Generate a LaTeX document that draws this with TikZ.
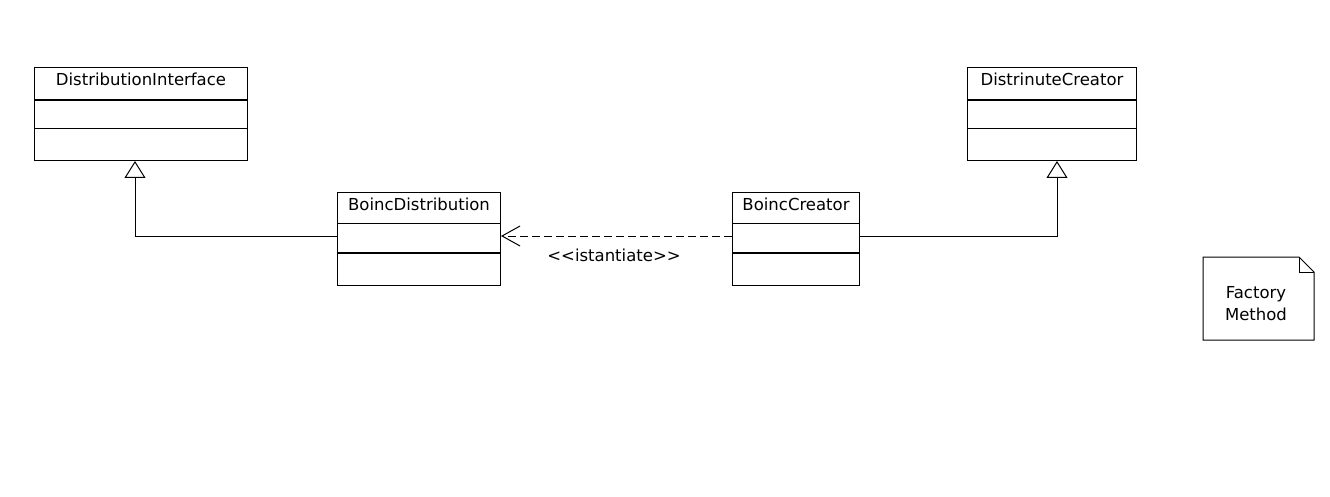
\documentclass[tikz,border=0pt]{standalone}
\usepackage{fontspec}
\setmainfont{DejaVu Sans}
\usetikzlibrary{arrows.meta,calc}
\tikzset{
  classbox/.style={draw, line width=1pt, rectangle, anchor=north west, inner sep=0pt},
  classname/.style={anchor=base, inner sep=0pt, font=\fontsize{16.5}{20}\selectfont},
  thinsep/.style={line width=1pt},
  thicksep/.style={line width=2.2pt},
  inherit/.style={line width=1pt, -{Triangle[open, length=17pt, width=21pt, line width=1pt]}},
  depend/.style={line width=1pt, dash pattern=on 8pt off 4pt, -{Straight Barb[length=18pt, width=20pt, line width=1pt]}},
  lbl/.style={inner sep=0pt, font=\fontsize{16.5}{20}\selectfont},
}
\begin{document}
\begin{tikzpicture}[x=1pt,y=-1pt]
\useasboundingbox[fill=white] (0,0) rectangle (1330,497);
% DistributionInterface
\node[classbox, minimum width=213pt, minimum height=93pt] (di) at (34,67) {};
\node[classname] (diname) at ($(di.north)+(0,19)$) {DistributionInterface};
\draw[thicksep] ($(di.north west)+(0,33)$) -- ($(di.north east)+(0,33)$);
\draw[thinsep] ($(di.north west)+(0,62)$) -- ($(di.north east)+(0,62)$);
% DistrinuteCreator
\node[classbox, minimum width=169pt, minimum height=93pt] (dc) at (967,67) {};
\node[classname] (dcname) at ($(dc.north)+(0,19)$) {DistrinuteCreator};
\draw[thicksep] ($(dc.north west)+(0,33)$) -- ($(dc.north east)+(0,33)$);
\draw[thinsep] ($(dc.north west)+(0,62)$) -- ($(dc.north east)+(0,62)$);
% BoincDistribution
\node[classbox, minimum width=163pt, minimum height=93pt] (bd) at (337,192) {};
\node[classname] (bdname) at ($(bd.north)+(0,18.5)$) {BoincDistribution};
\draw[thinsep] ($(bd.north west)+(0,31)$) -- ($(bd.north east)+(0,31)$);
\draw[thicksep] ($(bd.north west)+(0,61)$) -- ($(bd.north east)+(0,61)$);
% BoincCreator
\node[classbox, minimum width=127pt, minimum height=93pt] (bc) at (732,192) {};
\node[classname] (bcname) at ($(bc.north)+(0,18.5)$) {BoincCreator};
\draw[thinsep] ($(bc.north west)+(0,31)$) -- ($(bc.north east)+(0,31)$);
\draw[thicksep] ($(bc.north west)+(0,61)$) -- ($(bc.north east)+(0,61)$);
% connectors
\coordinate (bdw) at ($(bd.north west)+(0,44)$);
\coordinate (bdr) at ($(bd.north east)+(0,44)$);
\coordinate (bcw) at ($(bc.north west)+(0,44)$);
\coordinate (bce) at ($(bc.north east)+(0,44)$);
\coordinate (ditip) at ($(di.south west)+(101,0)$);
\coordinate (dctip) at ($(dc.south west)+(90,0)$);
\draw[inherit] (bdw) -| (ditip);
\draw[inherit] (bce) -| (dctip);
\draw[depend] (bcw) -- (bdr);
\node[lbl] (stereo) at (614,255) {<{}<istantiate>{}>};
% note
\coordinate (nw) at (1203,257);
\coordinate (ne) at (1299,257);
\coordinate (nf) at (1314,272);
\coordinate (nse) at (1314,340);
\coordinate (nsw) at (1203,340);
\draw[line width=1pt] (nw) -- (ne) -- (nf) -- (nse) -- (nsw) -- cycle;
\draw[line width=1pt] (ne) -- (ne |- nf) -- (nf);
\node[lbl, align=center, font=\fontsize{16.5}{22}\selectfont] (note) at (1256,304) {Factory\\Method};
\end{tikzpicture}
\end{document}
